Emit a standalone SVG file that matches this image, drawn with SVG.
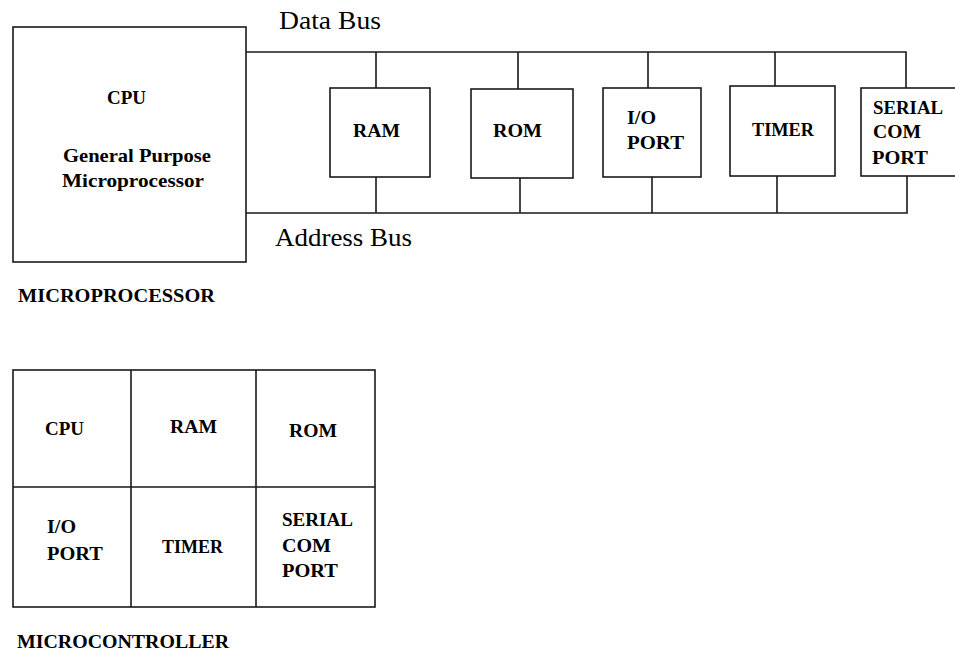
<svg xmlns="http://www.w3.org/2000/svg" width="955" height="653" viewBox="0 0 955 653">
<style>
.box{fill:#fff;stroke:#1a1a1a;stroke-width:1.6}
.ln{fill:none;stroke:#1a1a1a;stroke-width:1.6}
.b{font-weight:bold;font-size:19px;fill:#000}
.n{font-size:26px;fill:#000}
</style>
<rect width="955" height="653" fill="#fff"/>
<g id="connectors">
<path class="ln" d="M246 52 H906 V88 M376 52 V88 M518 52 V89 M648 52 V88 M775 52 V86"/>
<path class="ln" d="M246 213 H907 V176 M376 213 V177 M520 213 V178 M652 213 V177 M777 213 V176"/>
</g>
<g font-family="Liberation Serif, Times New Roman, Tinos, Noto Serif, FreeSerif, serif">
<g id="cpu"><rect class="box" x="13" y="27" width="233" height="235"/>
<text class="b" x="107" y="104" textLength="39" lengthAdjust="spacingAndGlyphs">CPU</text>
<text class="b" x="63" y="162" textLength="148" lengthAdjust="spacingAndGlyphs">General Purpose</text>
<text class="b" x="62" y="187" textLength="142" lengthAdjust="spacingAndGlyphs">Microprocessor</text></g>
<g id="ram"><rect class="box" x="330" y="88" width="100" height="89"/>
<text class="b" x="353" y="137" textLength="47" lengthAdjust="spacingAndGlyphs">RAM</text></g>
<g id="rom"><rect class="box" x="471" y="89" width="102" height="89"/>
<text class="b" x="493" y="137" textLength="49" lengthAdjust="spacingAndGlyphs">ROM</text></g>
<g id="io"><rect class="box" x="603" y="88" width="98" height="89"/>
<text class="b" x="627" y="124" textLength="29" lengthAdjust="spacingAndGlyphs">I/O</text>
<text class="b" x="627" y="149" textLength="57" lengthAdjust="spacingAndGlyphs">PORT</text></g>
<g id="timer"><rect class="box" x="730" y="86" width="105" height="90"/>
<text class="b" x="752" y="136" textLength="62" lengthAdjust="spacingAndGlyphs">TIMER</text></g>
<g id="serial"><rect class="box" x="861" y="88" width="110" height="88"/>
<text class="b" x="873" y="114" textLength="70" lengthAdjust="spacingAndGlyphs">SERIAL</text>
<text class="b" x="873" y="138" textLength="48" lengthAdjust="spacingAndGlyphs">COM</text>
<text class="b" x="872" y="164" textLength="56" lengthAdjust="spacingAndGlyphs">PORT</text></g>
<g id="bus-labels">
<text class="n" x="279" y="29" textLength="102" lengthAdjust="spacingAndGlyphs">Data Bus</text>
<text class="n" x="275" y="246" textLength="137" lengthAdjust="spacingAndGlyphs">Address Bus</text>
</g>
<text class="b" x="18" y="302" textLength="197" lengthAdjust="spacingAndGlyphs">MICROPROCESSOR</text>
<g id="microcontroller">
<rect class="box" x="13" y="370" width="362" height="237"/>
<path class="ln" d="M13 487 H375 M131 370 V607 M256 370 V607"/>
<text class="b" x="45" y="435" textLength="39" lengthAdjust="spacingAndGlyphs">CPU</text>
<text class="b" x="170" y="433" textLength="47" lengthAdjust="spacingAndGlyphs">RAM</text>
<text class="b" x="289" y="437" textLength="48" lengthAdjust="spacingAndGlyphs">ROM</text>
<text class="b" x="47" y="533" textLength="29" lengthAdjust="spacingAndGlyphs">I/O</text>
<text class="b" x="47" y="560" textLength="56" lengthAdjust="spacingAndGlyphs">PORT</text>
<text class="b" x="162" y="553" textLength="61" lengthAdjust="spacingAndGlyphs">TIMER</text>
<text class="b" x="282" y="526" textLength="71" lengthAdjust="spacingAndGlyphs">SERIAL</text>
<text class="b" x="282" y="552" textLength="49" lengthAdjust="spacingAndGlyphs">COM</text>
<text class="b" x="282" y="577" textLength="56" lengthAdjust="spacingAndGlyphs">PORT</text>
</g>
<text class="b" x="17" y="648" textLength="212" lengthAdjust="spacingAndGlyphs">MICROCONTROLLER</text>
</g>
</svg>
